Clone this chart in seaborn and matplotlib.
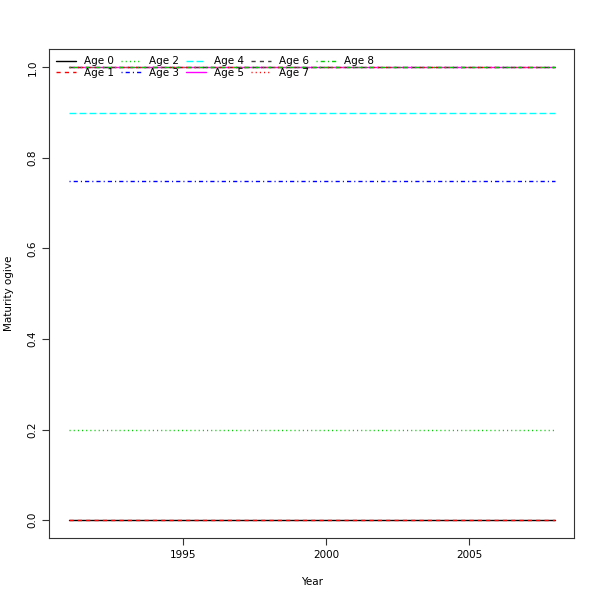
import matplotlib
matplotlib.use("Agg")
from matplotlib import pyplot as plt
import seaborn as sns
import pandas as pd

years = [1991, 1992, 1993, 1994, 1995, 1996, 1997, 1998, 1999,
         2000, 2001, 2002, 2003, 2004, 2005, 2006, 2007, 2008]
ages = ["Age 0", "Age 1", "Age 2", "Age 3", "Age 4", "Age 5", "Age 6", "Age 7", "Age 8"]
ogive = [0.0, 0.0, 0.2, 0.75, 0.9, 1.0, 1.0, 1.0, 1.0]

# R matplot defaults: col = 1:6, lty = 1:5
colors = ["black", "#FF0000", "#00CD00", "#0000FF", "#00FFFF", "#FF00FF",
          "#404040", "#FF0000", "#00CD00"]
dashes = ["", (3, 3), (0.8, 2.2), (0.8, 2.2, 3, 2.2), (5, 2.2), "",
          (3, 3), (0.8, 2.2), (0.8, 2.2, 3, 2.2)]

rows = []
for a, v in zip(ages, ogive):
    for y in years:
        rows.append({"Year": y, "Age": a, "Maturity": v})
df = pd.DataFrame(rows)

sns.set_style("ticks")
plt.rcParams["font.family"] = ["DejaVu Sans"]
plt.rcParams["text.color"] = "black"
plt.rcParams["axes.labelcolor"] = "black"
plt.rcParams["xtick.color"] = "black"
plt.rcParams["ytick.color"] = "black"

fig = plt.figure(figsize=(6, 6), dpi=100)
ax = fig.add_axes([0.082, 0.103, 0.875, 0.815])
sns.lineplot(data=df, x="Year", y="Maturity", hue="Age", style="Age",
             palette=dict(zip(ages, colors)), dashes=dict(zip(ages, dashes)),
             linewidth=1.0, ax=ax)

ax.set_xlim(1990.32, 2008.68)
ax.set_ylim(-0.04, 1.04)
ax.set_xticks([1995, 2000, 2005])
ax.set_yticks([0.0, 0.2, 0.4, 0.6, 0.8, 1.0])
ax.set_yticklabels(["0.0", "0.2", "0.4", "0.6", "0.8", "1.0"], rotation=90, va="center")
ax.tick_params(labelsize=7.5, length=5, width=0.8, color="#333333")
for s in ax.spines.values():
    s.set_visible(True)
    s.set_color("#333333")
    s.set_linewidth(0.8)
ax.set_xlabel("Year", fontsize=7.5, labelpad=12)
ax.set_ylabel("Maturity ogive", fontsize=7.5, labelpad=10)

ax.legend(loc="upper left", ncol=5, frameon=False, fontsize=7.5,
          handlelength=1.9, handletextpad=0.75, columnspacing=0.7,
          labelspacing=0.1, borderaxespad=0.3, bbox_to_anchor=(0.0, 1.0))

fig.savefig("out.png", dpi=100)
